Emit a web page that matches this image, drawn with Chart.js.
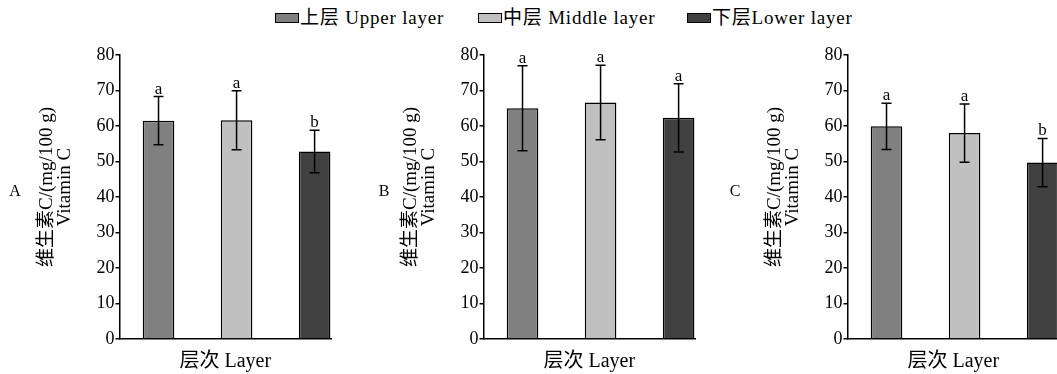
<!DOCTYPE html>
<html>
<head>
<meta charset="utf-8">
<script src="https://cdn.jsdelivr.net/npm/chart.js@4.4.0/dist/chart.umd.min.js"></script>
<style>
  html, body { margin: 0; padding: 0; background: #fff; }
  body {
    width: 1057px; height: 374px; position: relative; overflow: hidden;
    font-family: "Liberation Serif", "Noto Sans CJK SC", serif; color: #000;
  }
  .panel { position: absolute; top: 0; width: 364px; height: 374px; }
  .panel canvas { display: block; }
  .tag { position: absolute; top: 191px; font-size: 16px; transform: translate(-50%, -50%); }
  #legend { position: absolute; top: 7px; left: 0; width: 1057px; height: 24px; font-size: 19px; line-height: 22px; letter-spacing: 0.8px; }
  .item { position: absolute; top: 0; white-space: nowrap; display: flex; align-items: center; }
  .swatch { width: 22px; height: 8px; border: 1.5px solid #000; margin-right: 1px; }
</style>
</head>
<body>
<div id="legend"></div>
<div class="panel" style="left:0"><canvas id="chart-a" width="364" height="374"></canvas></div>
<div class="panel" style="left:364px"><canvas id="chart-b" width="364" height="374"></canvas></div>
<div class="panel" style="left:728px"><canvas id="chart-c" width="364" height="374"></canvas></div>
<div class="tag" style="left:15px">A</div>
<div class="tag" style="left:384px">B</div>
<div class="tag" style="left:735px">C</div>
<script>
// ----- Data -----
const layers = ['上层 Upper layer', '中层 Middle layer', '下层Lower layer'];
const layerPos = [1, 2, 3];

const meansA = [61.5, 61.6, 52.8];
const errorsA = [6.8, 8.3, 6.0];
const lettersA = ['a', 'a', 'b'];

const meansB = [65.0, 66.6, 62.3];
const errorsB = [12.0, 10.5, 9.6];
const lettersB = ['a', 'a', 'a'];

const meansC = [59.9, 58.0, 49.7];
const errorsC = [6.5, 8.2, 6.8];
const lettersC = ['a', 'a', 'b'];

const yTitle = ['维生素C/(mg/100 g)', 'Vitamin C'];
const xTitle = '层次 Layer';

// ----- Style -----
const barColors = ['#808080', '#c0c0c0', '#404040'];
const serif = '"Liberation Serif", "Noto Sans CJK SC", serif';
Chart.defaults.font.family = serif;
Chart.defaults.color = '#000';

// ----- Legend (HTML, shared by the three panels) -----
const legendLeft = [275, 478, 687];
const legendEl = document.getElementById('legend');
layers.forEach((name, i) => {
  const item = document.createElement('div');
  item.className = 'item';
  item.style.left = legendLeft[i] + 'px';
  item.innerHTML = `<span class="swatch" style="background:${barColors[i]}"></span><span>${name}</span>`;
  legendEl.appendChild(item);
});

// ----- Error bars + significance letters -----
const errorBarPlugin = {
  id: 'errorBars',
  afterDatasetsDraw(chart, args, opts) {
    const { ctx } = chart;
    const y = chart.scales.y;
    const meta = chart.getDatasetMeta(0);
    const data = chart.data.datasets[0].data;
    ctx.save();
    ctx.strokeStyle = '#000';
    ctx.lineWidth = 1.5;
    ctx.fillStyle = '#000';
    ctx.font = '17px ' + serif;
    ctx.textAlign = 'center';
    ctx.textBaseline = 'alphabetic';
    meta.data.forEach((bar, i) => {
      const v = data[i].y;
      const e = opts.errors[i];
      const top = y.getPixelForValue(v + e);
      const bot = y.getPixelForValue(v - e);
      const cap = 5;
      ctx.beginPath();
      ctx.moveTo(bar.x, top);
      ctx.lineTo(bar.x, bot);
      ctx.moveTo(bar.x - cap, top);
      ctx.lineTo(bar.x + cap, top);
      ctx.moveTo(bar.x - cap, bot);
      ctx.lineTo(bar.x + cap, bot);
      ctx.stroke();
      ctx.fillText(opts.letters[i], bar.x, top - 3);
    });
    ctx.restore();
  }
};

// ----- Two-line rotated y title (sits a little above the axis middle) -----
const yTitlePlugin = {
  id: 'yTitle',
  afterDraw(chart, args, opts) {
    const { ctx, chartArea } = chart;
    const midY = (chartArea.top + chartArea.bottom) / 2 - 10;
    ctx.save();
    ctx.fillStyle = '#000';
    ctx.font = '19px ' + serif;
    ctx.textAlign = 'center';
    ctx.textBaseline = 'middle';
    opts.lines.forEach((line, i) => {
      ctx.save();
      ctx.translate(chartArea.left - 72 + i * 18, midY);
      ctx.rotate(-Math.PI / 2);
      ctx.fillText(line, 0, 0);
      ctx.restore();
    });
    ctx.restore();
  }
};

// ----- Build one panel -----
function makePanel(id, means, errors, letters) {
  const ctx = document.getElementById(id).getContext('2d');
  return new Chart(ctx, {
    type: 'bar',
    data: {
      datasets: [{
        data: layerPos.map((x, i) => ({ x: x, y: means[i] })),
        backgroundColor: barColors,
        borderColor: '#000',
        borderWidth: 1.5,
        categoryPercentage: 1,
        barPercentage: 0.405,
      }]
    },
    options: {
      responsive: false,
      animation: false,
      layout: { padding: { top: 55, right: 33, bottom: 0, left: 0 } },
      plugins: {
        legend: { display: false },
        tooltip: { enabled: false },
        errorBars: { errors: errors, letters: letters },
        yTitle: { lines: yTitle },
      },
      scales: {
        x: {
          type: 'linear',
          offset: false,
          min: 0.5,
          max: 3.21,
          afterBuildTicks: (s) => { s.ticks = layerPos.map(v => ({ value: v })); },
          afterFit: (s) => { s.height = 35; },
          ticks: { display: false },
          grid: { display: false, drawTicks: false },
          border: { display: true, color: '#000', width: 1.5 },
          title: {
            display: true,
            text: xTitle,
            font: { size: 20 },
            padding: { top: 0, bottom: 0 },
          },
        },
        y: {
          min: 0,
          max: 80,
          afterFit: (s) => { s.width = 119.5; },
          ticks: { stepSize: 10, padding: 1, font: { size: 18 } },
          grid: { drawOnChartArea: false, drawTicks: true, tickLength: 4, color: '#000', lineWidth: 1.5 },
          border: { display: true, color: '#000', width: 1.5 },
          title: { display: false },
        },
      },
    },
    plugins: [errorBarPlugin, yTitlePlugin],
  });
}

// ----- Initialize -----
makePanel('chart-a', meansA, errorsA, lettersA);
makePanel('chart-b', meansB, errorsB, lettersB);
makePanel('chart-c', meansC, errorsC, lettersC);
</script>
</body>
</html>
